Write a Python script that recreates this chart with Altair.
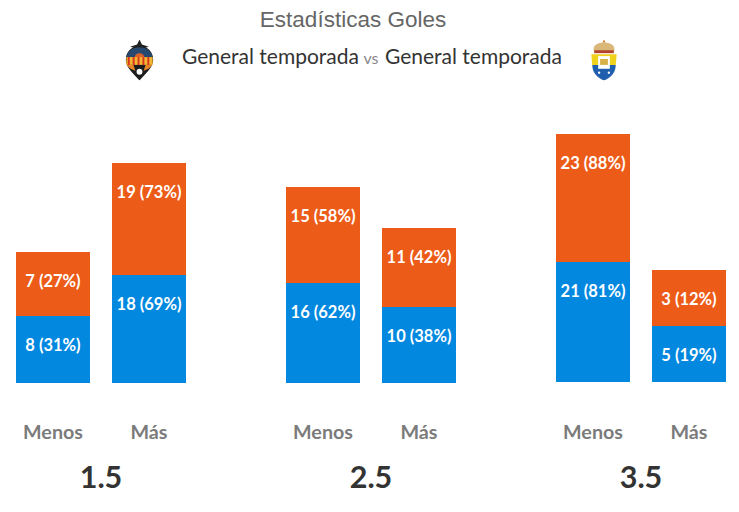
import base64
import altair as alt
import pandas as pd

lines = ["1.5", "1.5", "2.5", "2.5", "3.5", "3.5"]
sides = ["Menos", "Más"] * 3
centers = [45, 141, 315, 411, 585, 681]
group_centers = [93, 363, 633]
group_labels = ["1.5", "2.5", "3.5"]
base = [0, 0, 0, 0, 1, 1]
blue_len = [67, 108, 100, 76, 120, 56]
orange_len = [64, 112, 96, 79, 128, 56]
blue_labels = ["8 (31%)", "18 (69%)", "16 (62%)", "10 (38%)", "21 (81%)", "5 (19%)"]
orange_labels = ["7 (27%)", "19 (73%)", "15 (58%)", "11 (42%)", "23 (88%)", "3 (12%)"]

BLUE = "#0288DF"
ORANGE = "#EC5B17"
W, H = 723, 496
BASE_Y = 375

rows = []
for i in range(6):
    b0 = base[i]
    b1 = b0 + blue_len[i]
    o1 = b1 + orange_len[i]
    rows.append(dict(x=centers[i], side=sides[i], line=lines[i], team="local", y0=b0, y1=b1, label=blue_labels[i]))
    rows.append(dict(x=centers[i], side=sides[i], line=lines[i], team="visitante", y0=b1, y1=o1, label=orange_labels[i]))
df = pd.DataFrame(rows)

xs = alt.Scale(domain=[0, W], range=[0, W], padding=0)
ys = alt.Scale(domain=[0, BASE_Y], range=[BASE_Y, 0])
X = alt.X("x:Q", scale=xs, axis=None)

bars = alt.Chart(df).mark_bar(size=74, cornerRadius=0).encode(
    x=X,
    y=alt.Y("y0:Q", scale=ys, axis=None),
    y2="y1:Q",
    color=alt.Color("team:N", scale=alt.Scale(domain=["local", "visitante"], range=[BLUE, ORANGE]), legend=None),
)
bar_text = alt.Chart(df).mark_text(
    font="Lato", fontWeight="bold", fontSize=16.5, color="white", dy=30, baseline="middle"
).encode(x=X, y=alt.Y("y1:Q", scale=ys, axis=None), text="label:N")

side_df = pd.DataFrame({"x": centers, "t": sides})
side_text = alt.Chart(side_df).mark_text(
    font="Lato", fontWeight="bold", fontSize=19.7, color="#7B7B7B", baseline="middle"
).encode(x=X, y=alt.value(425), text="t:N")

group_df = pd.DataFrame({"x": group_centers, "t": group_labels})
group_text = alt.Chart(group_df).mark_text(
    font="Lato", fontWeight="bold", fontSize=30.5, color="#333333", baseline="middle"
).encode(x=X, y=alt.value(471), text="t:N")

title = alt.Chart(pd.DataFrame({"x": [345], "t": ["Estadísticas Goles"]})).mark_text(
    font="Liberation Sans", fontSize=22.5, color="#666666", baseline="alphabetic"
).encode(x=X, y=alt.value(19), text="t:N")

head_df = pd.DataFrame({"x": [174, 377], "t": ["General temporada", "General temporada"]})
head = alt.Chart(head_df).mark_text(
    font="Lato", fontSize=21, color="#333333", baseline="middle", align="left"
).encode(x=X, y=alt.value(50), text="t:N")
vs = alt.Chart(pd.DataFrame({"x": [363], "t": ["vs"]})).mark_text(
    font="Lato", fontSize=16, color="#888888", baseline="middle"
).encode(x=X, y=alt.value(51), text="t:N")

crest_a = """<svg xmlns='http://www.w3.org/2000/svg' viewBox='0 0 32 42'>
<path d='M16 0l2.500 5 7 2.500-5 1.500h-9l-5-1.500 7-2.500z' fill='#222'/>
<path d='M16 7c9 0 14 6 14 14 0 8-8 14-14 21C10 35 2 29 2 21 2 13 7 7 16 7z' fill='#1d1d1d'/>
<path d='M16 8c8 0 13 5 13.500 11H2.500C3 13 8 8 16 8z' fill='#27496f'/>
<path d='M11 19a5 5 0 0 1 10 0z' fill='#e0602a'/>
<rect x='2.500' y='18' width='27' height='8' fill='#f2b632'/>
<path d='M5 18v8M10 18v8M15 18v8M20 18v8M25 18v8' stroke='#d8341e' stroke-width='2'/>
<path d='M2.800 26h7l2 6-5-2zM29.200 26h-7l-2 6 5-2z' fill='#e8862a'/>
<circle cx='16' cy='33' r='3' fill='#fff'/>
</svg>"""
crest_b = """<svg xmlns='http://www.w3.org/2000/svg' viewBox='0 0 32 42'>
<path d='M16 0l1.500 3h-3z' fill='#c9772a'/>
<path d='M6 13c-3-8 5-10 10-10s13 2 10 10z' fill='#d9b879'/>
<rect x='6' y='11' width='20' height='3' fill='#b3442a'/>
<path d='M3 15h26l-1 12H4z' fill='#f0d21e'/>
<path d='M4 26h24c0 9-6 13-12 16C10 39 4 35 4 26z' fill='#1f5fae'/>
<rect x='10' y='17' width='12' height='13' fill='#fff'/>
<rect x='12' y='20' width='8' height='6' fill='#d7b24a'/>
<circle cx='11' cy='34' r='1.200' fill='#fff'/>
<circle cx='21' cy='34' r='1.200' fill='#fff'/>
</svg>"""


def data_uri(svg):
    return "data:image/svg+xml;base64," + base64.b64encode(svg.encode()).decode()


logo_df = pd.DataFrame({"x": [131.5, 596], "u": [data_uri(crest_a), data_uri(crest_b)]})
logos = alt.Chart(logo_df).mark_image(width=32, height=41).encode(x=X, y=alt.value(52), url="u:N")

chart = alt.layer(bars, bar_text, side_text, group_text, title, head, vs, logos).properties(
    width=W, height=H, padding=0, autosize=alt.AutoSizeParams(type="none"),
    background="white",
).configure_view(stroke=None)
chart.save("out.html", embed_options={"renderer": "svg", "actions": False})
